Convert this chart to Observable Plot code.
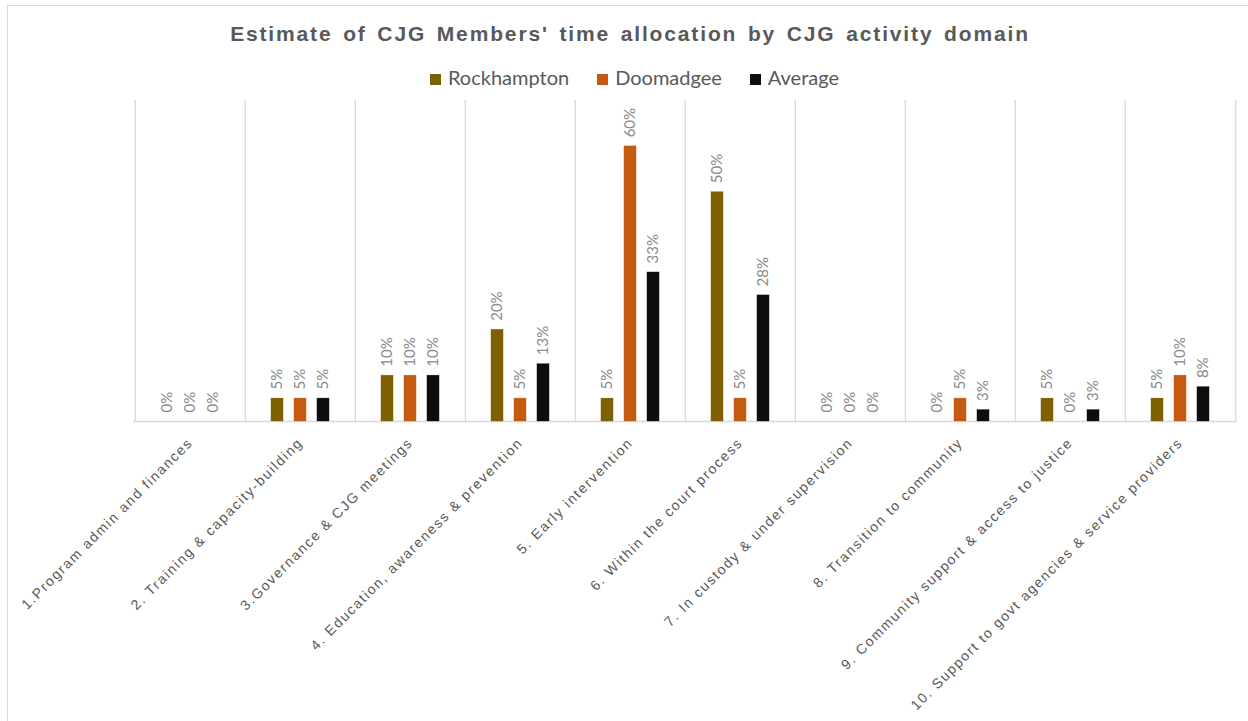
<!DOCTYPE html>
<html>
<head>
<meta charset="utf-8">
<script src="https://cdn.jsdelivr.net/npm/d3@7"></script>
<script src="https://cdn.jsdelivr.net/npm/@observablehq/plot@0.6"></script>
<style>
  html, body { margin: 0; padding: 0; background: #fff; overflow: hidden; }
  #wrap { position: relative; width: 1248px; height: 721px; overflow: hidden; }
  #border { position: absolute; left: 7px; top: 5px; width: 1400px; height: 900px; border: 1.5px solid #d9d9d9; box-sizing: border-box; }
  #title { position: absolute; left: 0; top: 22px; width: 1260px; text-align: center;
           font-family: "Liberation Sans", Arial, sans-serif; font-weight: bold; font-size: 21px;
           letter-spacing: 1.85px; color: #595959; word-spacing: 3px; }
  #legend { position: absolute; left: 0; top: 65px; width: 1269px; text-align: center;
            font-family: "Lato", sans-serif; font-size: 20px; color: #595959; white-space: nowrap; }
  #legend span.item { display: inline-block; margin: 0 14px; }
  #legend span.sw { display: inline-block; width: 11px; height: 11px; margin-right: 7px; vertical-align: 0px; }
  #chart { position: absolute; left: 0; top: 96px; }
</style>
</head>
<body>
<div id="wrap">
  <div id="border"></div>
  <div id="title"></div>
  <div id="legend"></div>
  <div id="chart"></div>
</div>
<script>
const titleText = "Estimate of CJG Members' time allocation by CJG activity domain";
const categories = [
  "1.Program admin and finances",
  "2. Training & capacity-building",
  "3.Governance & CJG meetings",
  "4. Education, awareness & prevention",
  "5. Early intervention",
  "6. Within the court process",
  "7. In custody & under supervision",
  "8. Transition to community",
  "9. Community support & access to justice",
  "10. Support to govt agencies & service providers"
];
const seriesNames = ["Rockhampton", "Doomadgee", "Average"];
const seriesColors = ["#7f6000", "#c55a11", "#0d0d0d"];
const rockhampton = [0, 5, 10, 20, 5, 50, 0, 0, 5, 5];
const doomadgee   = [0, 5, 10, 5, 60, 5, 0, 5, 0, 10];
const average     = [0, 5, 10, 12.5, 32.5, 27.5, 0, 2.5, 2.5, 7.5];
const yMax = 70;

document.getElementById("title").textContent = titleText;
const legend = document.getElementById("legend");
seriesNames.forEach((n, i) => {
  const item = document.createElement("span");
  item.className = "item";
  const sw = document.createElement("span");
  sw.className = "sw";
  sw.style.background = seriesColors[i];
  item.appendChild(sw);
  item.appendChild(document.createTextNode(n));
  legend.appendChild(item);
});

const seriesValues = [rockhampton, doomadgee, average];
const data = [];
seriesNames.forEach((s, si) => {
  categories.forEach((c, ci) => data.push({category: c, series: s, si, value: seriesValues[si][ci]}));
});

const W = 1248, H = 625;
const mL = 133, mR = 11, mT = 4, mB = 300;
const bw = (W - mL - mR) / categories.length;
const barW = 12.5;
const step = 23;
const inset = (bw - barW) / 2;

const marks = [
  Plot.ruleX(categories, {x: d => d, dx: -bw / 2, stroke: "#d9d9d9", strokeWidth: 1.3}),
  Plot.ruleX([categories[categories.length - 1]], {x: d => d, dx: bw / 2, stroke: "#d9d9d9", strokeWidth: 1.3}),
  Plot.ruleY([0], {stroke: "#d9d9d9", strokeWidth: 1.5})
];
seriesNames.forEach((s, si) => {
  const d = data.filter(r => r.si === si);
  const off = (si - 1) * step;
  marks.push(Plot.barY(d, {
    x: "category", y: "value", fill: seriesColors[si],
    insetLeft: inset + off, insetRight: inset - off,
    stroke: seriesColors[si], strokeOpacity: 0.6, strokeWidth: 0.5
  }));
  marks.push(Plot.text(d, {
    x: "category", y: "value", dx: off, dy: -9,
    text: r => Math.round(r.value) + "%",
    rotate: -90, textAnchor: "start", lineAnchor: "middle",
    fill: "#8a8a8a", fontSize: 15, fontFamily: "Lato, sans-serif"
  }));
});

const chart = Plot.plot({
  width: W, height: H,
  marginLeft: mL, marginRight: mR, marginTop: mT, marginBottom: mB,
  style: {background: "transparent", overflow: "visible"},
  x: {domain: categories, padding: 0, axis: null},
  y: {domain: [0, yMax], axis: null},
  marks: [
    ...marks,
    Plot.axisX({
      domain: categories, tickSize: 0, tickPadding: 19, tickRotate: -45,
      fill: "#595959", fontSize: 14, fontFamily: "Liberation Sans, Arial, sans-serif",
      label: null
    })
  ]
});
document.getElementById("chart").appendChild(chart);
// letter spacing on axis labels to mimic the reference
chart.querySelectorAll("g[aria-label='x-axis tick label'] text").forEach(t => t.setAttribute("letter-spacing", "1.6"));
</script>
</body>
</html>
